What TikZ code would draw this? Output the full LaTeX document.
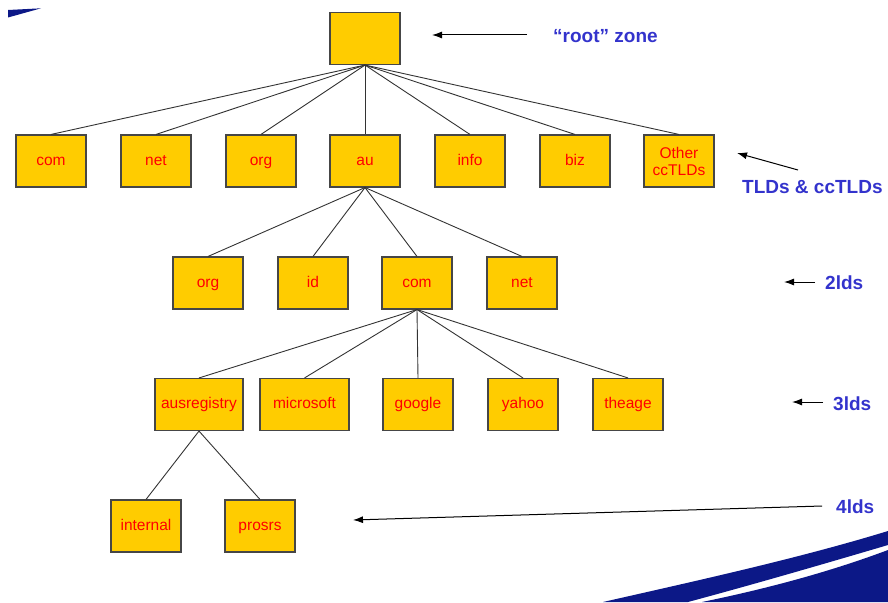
\documentclass[tikz,border=0pt]{standalone}
\usepackage{fontspec}
\setmainfont{Liberation Sans}
\usetikzlibrary{arrows.meta}
\definecolor{boxfill}{RGB}{255,204,0}
\definecolor{boxline}{RGB}{70,70,70}
\definecolor{lbl}{RGB}{51,51,204}
\definecolor{navy}{RGB}{12,24,135}
\tikzset{
  zone/.style={draw=boxline, line width=1.1pt, fill=boxfill, minimum width=70pt, minimum height=52pt, inner sep=1pt, text=red, font=\fontsize{15.5}{18}\selectfont, align=center, text height=11pt, text depth=3pt},
  link/.style={draw=black!80, line width=0.9pt},
  lab/.style={text=lbl, font=\fontsize{19}{22}\selectfont\bfseries, anchor=west, inner sep=0pt},
  pointer/.style={draw=black, line width=1pt, -{Latex[length=10pt,width=7pt]}}
}
\begin{document}
\begin{tikzpicture}[x=1pt,y=-1pt]
\useasboundingbox (0,0) rectangle (888,602);
% decorations
\fill[navy] (8,10) -- (41,8.3) -- (8,17.5) -- cycle;
\fill[navy] (603,602) .. controls (700,580) and (800,558) .. (888,531) -- (888,545) .. controls (800,571) and (740,588) .. (688,602) -- cycle;
\fill[navy] (702,602) .. controls (780,586) and (840,568) .. (888,550) -- (888,602) -- cycle;
% nodes
\node[zone] (root) at (365,38.5) {};
\node[zone] (com) at (51,161) {com};
\node[zone] (net) at (156,161) {net};
\node[zone] (org) at (261,161) {org};
\node[zone] (au) at (365,161) {au};
\node[zone] (info) at (470,161) {info};
\node[zone] (biz) at (575,161) {biz};
\node[zone, text height=, text depth=] (other) at (679,161) {Other\\[-1pt]ccTLDs};
\node[zone] (auorg) at (208,283) {org};
\node[zone] (auid) at (313,283) {id};
\node[zone] (aucom) at (417,283) {com};
\node[zone] (aunet) at (522,283) {net};
\node[zone, minimum width=88pt] (ausreg) at (199,404.5) {ausregistry};
\node[zone, minimum width=89pt] (ms) at (304.5,404.5) {microsoft};
\node[zone] (google) at (418,404.5) {google};
\node[zone] (yahoo) at (523,404.5) {yahoo};
\node[zone] (theage) at (628,404.5) {theage};
\node[zone] (internal) at (146,526) {internal};
\node[zone] (prosrs) at (260,526) {prosrs};
% tree links
\foreach \c in {com,net,org,au,info,biz,other}
  \draw[link] (root.south) -- (\c.north);
\foreach \c in {auorg,auid,aucom,aunet}
  \draw[link] (au.south) -- (\c.north);
\foreach \c in {ausreg,ms,google,yahoo,theage}
  \draw[link] (aucom.south) -- (\c.north);
\foreach \c in {internal,prosrs}
  \draw[link] (ausreg.south) -- (\c.north);
% labels
\node[lab] (lroot) at (553,36) {“root” zone};
\node[lab] (ltld) at (742,187) {TLDs \& ccTLDs};
\node[lab] (l2) at (825,283) {2lds};
\node[lab] (l3) at (833,404) {3lds};
\node[lab] (l4) at (836,507) {4lds};
\coordinate (a1s) at (527,35); \coordinate (a1e) at (432,35);
\coordinate (a2s) at (798,170); \coordinate (a2e) at (737,153);
\coordinate (a3s) at (815,282); \coordinate (a3e) at (784,282);
\coordinate (a4s) at (823,402); \coordinate (a4e) at (792,402);
\coordinate (a5s) at (822,506); \coordinate (a5e) at (353,520);
\draw[pointer] (a1s) -- (a1e);
\draw[pointer] (a2s) -- (a2e);
\draw[pointer] (a3s) -- (a3e);
\draw[pointer] (a4s) -- (a4e);
\draw[pointer] (a5s) -- (a5e);
\end{tikzpicture}
\end{document}
